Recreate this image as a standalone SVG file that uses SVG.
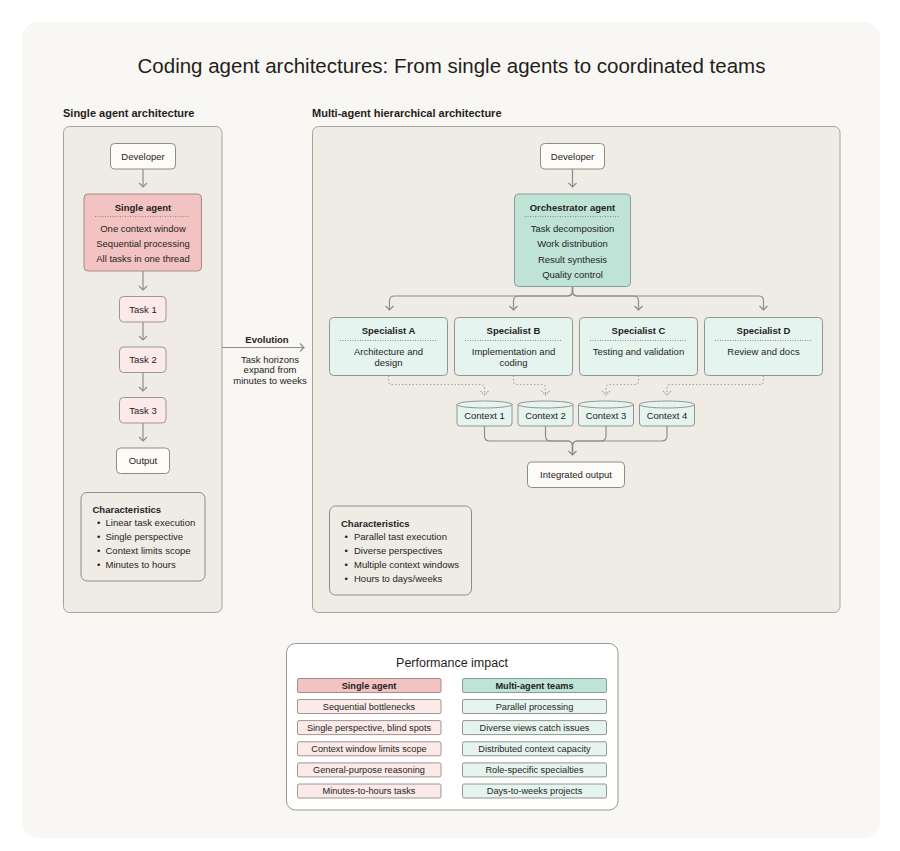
<svg xmlns="http://www.w3.org/2000/svg" width="900" height="851" viewBox="0 0 900 851">
<defs>
<style>
text{font-family:"Liberation Sans",Arial,sans-serif;fill:#1f1e1b}
.t{font-size:9.5px;text-anchor:middle}
.tb{font-size:9.5px;text-anchor:middle;font-weight:bold}
.l{font-size:9.5px}
.lb{font-size:9.5px;font-weight:bold}
.h{font-size:11px;font-weight:bold}
.panel{fill:#efece6;stroke:#a6a39b;stroke-width:1}
.white{fill:#fcfbf8;stroke:#8f8c85;stroke-width:1}
.pink{fill:#f2c3c2;stroke:#a58b88;stroke-width:1}
.lpink{fill:#fbeae8;stroke:#9d9691;stroke-width:1}
.mint{fill:#bfe4d7;stroke:#879f96;stroke-width:1}
.lmint{fill:#e6f4ef;stroke:#939690;stroke-width:1}
.dots{stroke:#8f8c85;stroke-width:1;stroke-dasharray:1 1.5;fill:none}
.c{fill:none;stroke:#8f8c85;stroke-width:1.2}
.cd{fill:none;stroke:#aaa69e;stroke-width:1.2;stroke-dasharray:1.5 2}
.pt{font-size:9.2px;text-anchor:middle}
</style>
<marker id="ah" viewBox="-6 -6 12 12" refX="0" refY="0" markerWidth="12" markerHeight="12" markerUnits="userSpaceOnUse" orient="auto">
<path d="M-4,-4 L0,0 L-4,4" fill="none" stroke="#8f8c85" stroke-width="1.2"/>
</marker>
<marker id="ahd" viewBox="-6 -6 12 12" refX="0" refY="0" markerWidth="12" markerHeight="12" markerUnits="userSpaceOnUse" orient="auto">
<path d="M-4,-4 L0,0 L-4,4" fill="none" stroke="#aaa69e" stroke-width="1.2" stroke-dasharray="1.5 1"/>
</marker>
</defs>
<rect width="900" height="851" fill="#ffffff"/>
<rect x="22" y="22" width="858" height="816" rx="16" fill="#f8f7f3"/>
<text x="451.5" y="73" style="font-size:20.5px;text-anchor:middle">Coding agent architectures: From single agents to coordinated teams</text>

<g id="left-panel">
<text x="63" y="117" class="h">Single agent architecture</text>
<rect x="63.5" y="126.5" width="158.5" height="486" rx="6" class="panel"/>
</g>
<g id="right-panel">
<text x="312" y="117" class="h">Multi-agent hierarchical architecture</text>
<rect x="312.5" y="126.5" width="527.5" height="486" rx="6" class="panel"/>
</g>

<g id="connectors">
<path class="c" d="M143,169 V187" marker-end="url(#ah)"/>
<path class="c" d="M143,271 V290" marker-end="url(#ah)"/>
<path class="c" d="M143,322 V340" marker-end="url(#ah)"/>
<path class="c" d="M143,373 V391" marker-end="url(#ah)"/>
<path class="c" d="M143,423 V441" marker-end="url(#ah)"/>
<path class="c" d="M222,347.5 H304" marker-end="url(#ah)"/>
<path class="c" d="M572.5,169 V187" marker-end="url(#ah)"/>
<path class="c" d="M572.5,287 V291 Q572.5,296 567.5,296 H394.5 Q389.5,296 389.5,301 V310" marker-end="url(#ah)"/>
<path class="c" d="M572.5,287 V291 Q572.5,296 567.5,296 H518.5 Q513.5,296 513.5,301 V310" marker-end="url(#ah)"/>
<path class="c" d="M572.5,287 V291 Q572.5,296 577.5,296 H633.5 Q638.5,296 638.5,301 V310" marker-end="url(#ah)"/>
<path class="c" d="M572.5,287 V291 Q572.5,296 577.5,296 H758.5 Q763.5,296 763.5,301 V310" marker-end="url(#ah)"/>
<path class="cd" d="M388.5,375.5 V381 Q388.5,384.5 392,384.5 H481 Q484.5,384.5 484.5,388 V395" marker-end="url(#ahd)"/>
<path class="cd" d="M513.5,375.5 V381 Q513.5,384.5 517,384.5 H542 Q545.5,384.5 545.5,388 V395" marker-end="url(#ahd)"/>
<path class="cd" d="M638.5,375.5 V381 Q638.5,384.5 635,384.5 H609.5 Q606,384.5 606,388 V395" marker-end="url(#ahd)"/>
<path class="cd" d="M763.5,375.5 V381 Q763.5,384.5 760,384.5 H670.5 Q667,384.5 667,388 V395" marker-end="url(#ahd)"/>
<path class="c" d="M484.5,426 V436 Q484.5,441 489.5,441 H567.5 Q572.5,441 572.5,446 V455" marker-end="url(#ah)"/>
<path class="c" d="M545.5,426 V436 Q545.5,441 550.5,441 H567.5 Q572.5,441 572.5,446 V455"/>
<path class="c" d="M606,426 V436 Q606,441 601,441 H577.5 Q572.5,441 572.5,446 V455"/>
<path class="c" d="M667,426 V436 Q667,441 662,441 H577.5 Q572.5,441 572.5,446 V455"/>
<path class="c" d="M441,706.5 H456" marker-end="url(#ah)"/>
<path class="c" d="M441,727.5 H456" marker-end="url(#ah)"/>
<path class="c" d="M441,748.8 H456" marker-end="url(#ah)"/>
<path class="c" d="M441,769.9 H456" marker-end="url(#ah)"/>
<path class="c" d="M441,791 H456" marker-end="url(#ah)"/>
</g>

<g id="l-developer">
<rect x="110.5" y="143.5" width="65" height="25.5" rx="4" class="white"/>
<text x="143" y="160" class="t">Developer</text>
</g>
<g id="single-agent">
<rect x="84" y="194" width="117.5" height="77" rx="4" class="pink"/>
<text x="143" y="210.5" class="tb">Single agent</text>
<line x1="95" y1="216.5" x2="190" y2="216.5" class="dots"/>
<text x="143" y="231.5" class="t">One context window</text>
<text x="143" y="247" class="t">Sequential processing</text>
<text x="143" y="262" class="t">All tasks in one thread</text>
</g>
<g id="task1">
<rect x="119.5" y="296.5" width="46.5" height="25.5" rx="4" class="lpink"/>
<text x="143" y="312.5" class="t">Task 1</text>
</g>
<g id="task2">
<rect x="119.5" y="347" width="46.5" height="25.5" rx="4" class="lpink"/>
<text x="143" y="363" class="t">Task 2</text>
</g>
<g id="task3">
<rect x="119.5" y="397.5" width="46.5" height="25.5" rx="4" class="lpink"/>
<text x="143" y="413.5" class="t">Task 3</text>
</g>
<g id="l-output">
<rect x="116.5" y="448" width="53" height="25.5" rx="4" class="white"/>
<text x="143" y="464" class="t">Output</text>
</g>
<g id="l-characteristics">
<rect x="81" y="492.5" width="124" height="88.5" rx="6" class="panel" style="stroke:#8f8c85"/>
<text x="92.5" y="512.5" class="lb">Characteristics</text>
<text x="97" y="526" class="l">•</text><text x="105.5" y="526" class="l">Linear task execution</text>
<text x="97" y="540" class="l">•</text><text x="105.5" y="540" class="l">Single perspective</text>
<text x="97" y="554" class="l">•</text><text x="105.5" y="554" class="l">Context limits scope</text>
<text x="97" y="568" class="l">•</text><text x="105.5" y="568" class="l">Minutes to hours</text>
</g>

<g id="evolution">
<text x="267" y="343" class="tb">Evolution</text>
<text x="270" y="362.5" class="t">Task horizons</text>
<text x="270" y="373" class="t">expand from</text>
<text x="270" y="383.5" class="t">minutes to weeks</text>
</g>

<g id="r-developer">
<rect x="540.5" y="143.5" width="64" height="25.5" rx="4" class="white"/>
<text x="572.5" y="160" class="t">Developer</text>
</g>
<g id="orchestrator">
<rect x="514.5" y="194" width="116" height="92.5" rx="4" class="mint"/>
<text x="572.5" y="210.8" class="tb">Orchestrator agent</text>
<line x1="525" y1="216.5" x2="620" y2="216.5" class="dots"/>
<text x="572.5" y="231.8" class="t">Task decomposition</text>
<text x="572.5" y="247.3" class="t">Work distribution</text>
<text x="572.5" y="262.5" class="t">Result synthesis</text>
<text x="572.5" y="277.8" class="t">Quality control</text>
</g>
<g id="specialist-a">
<rect x="329.5" y="317.5" width="118" height="58" rx="4" class="lmint"/>
<text x="388.5" y="334.3" class="tb">Specialist A</text>
<line x1="340" y1="340.5" x2="437" y2="340.5" class="dots"/>
<text x="388.5" y="355.3" class="t">Architecture and</text>
<text x="388.5" y="366" class="t">design</text>
</g>
<g id="specialist-b">
<rect x="454.5" y="317.5" width="118" height="58" rx="4" class="lmint"/>
<text x="513.5" y="334.3" class="tb">Specialist B</text>
<line x1="465" y1="340.5" x2="562" y2="340.5" class="dots"/>
<text x="513.5" y="355.3" class="t">Implementation and</text>
<text x="513.5" y="366" class="t">coding</text>
</g>
<g id="specialist-c">
<rect x="579.5" y="317.5" width="118" height="58" rx="4" class="lmint"/>
<text x="638.5" y="334.3" class="tb">Specialist C</text>
<line x1="590" y1="340.5" x2="687" y2="340.5" class="dots"/>
<text x="638.5" y="355.3" class="t">Testing and validation</text>
</g>
<g id="specialist-d">
<rect x="704.5" y="317.5" width="118" height="58" rx="4" class="lmint"/>
<text x="763.5" y="334.3" class="tb">Specialist D</text>
<line x1="715" y1="340.5" x2="812" y2="340.5" class="dots"/>
<text x="763.5" y="355.3" class="t">Review and docs</text>
</g>

<g id="context-1">
<path class="lmint" d="M457,404.5 A27.5,3.5 0 0 1 512,404.5 V423 Q512,426 509,426 H460 Q457,426 457,423 Z"/>
<path d="M457,404.5 A27.5,3.5 0 0 0 512,404.5" fill="none" stroke="#939690"/>
<text x="484.5" y="419" class="t">Context 1</text>
</g>
<g id="context-2">
<path class="lmint" d="M518,404.5 A27.5,3.5 0 0 1 573,404.5 V423 Q573,426 570,426 H521 Q518,426 518,423 Z"/>
<path d="M518,404.5 A27.5,3.5 0 0 0 573,404.5" fill="none" stroke="#939690"/>
<text x="545.5" y="419" class="t">Context 2</text>
</g>
<g id="context-3">
<path class="lmint" d="M578.5,404.5 A27.5,3.5 0 0 1 633.5,404.5 V423 Q633.5,426 630.5,426 H581.5 Q578.5,426 578.5,423 Z"/>
<path d="M578.5,404.5 A27.5,3.5 0 0 0 633.5,404.5" fill="none" stroke="#939690"/>
<text x="606" y="419" class="t">Context 3</text>
</g>
<g id="context-4">
<path class="lmint" d="M639.5,404.5 A27.5,3.5 0 0 1 694.5,404.5 V423 Q694.5,426 691.5,426 H642.5 Q639.5,426 639.5,423 Z"/>
<path d="M639.5,404.5 A27.5,3.5 0 0 0 694.5,404.5" fill="none" stroke="#939690"/>
<text x="667" y="419" class="t">Context 4</text>
</g>
<g id="integrated-output">
<rect x="527.5" y="462" width="97" height="25.5" rx="4" class="white"/>
<text x="576" y="478" class="t">Integrated output</text>
</g>
<g id="r-characteristics">
<rect x="329.5" y="506" width="142" height="89" rx="6" class="panel" style="stroke:#8f8c85"/>
<text x="341" y="526.5" class="lb">Characteristics</text>
<text x="344.5" y="540" class="l">•</text><text x="354" y="540" class="l">Parallel tast execution</text>
<text x="344.5" y="554" class="l">•</text><text x="354" y="554" class="l">Diverse perspectives</text>
<text x="344.5" y="568" class="l">•</text><text x="354" y="568" class="l">Multiple context windows</text>
<text x="344.5" y="582" class="l">•</text><text x="354" y="582" class="l">Hours to days/weeks</text>
</g>

<g id="performance-impact">
<rect x="286.5" y="643.5" width="331.5" height="166.5" rx="9" fill="#ffffff" stroke="#9a978f"/>
<text x="452" y="667" style="font-size:12.5px;text-anchor:middle">Performance impact</text>
<rect x="297.5" y="678.5" width="143.5" height="14" rx="1.5" class="pink"/>
<text x="369" y="689" class="pt" style="font-weight:bold">Single agent</text>
<rect x="462.5" y="678.5" width="144" height="14" rx="1.5" class="mint"/>
<text x="534.5" y="689" class="pt" style="font-weight:bold">Multi-agent teams</text>
<rect x="297.5" y="699.5" width="143.5" height="14" rx="1.5" class="lpink"/>
<text x="369" y="709.8" class="pt">Sequential bottlenecks</text>
<rect x="462.5" y="699.5" width="144" height="14" rx="1.5" class="lmint"/>
<text x="534.5" y="709.8" class="pt">Parallel processing</text>
<rect x="297.5" y="720.6" width="143.5" height="14" rx="1.5" class="lpink"/>
<text x="369" y="730.9" class="pt">Single perspective, blind spots</text>
<rect x="462.5" y="720.6" width="144" height="14" rx="1.5" class="lmint"/>
<text x="534.5" y="730.9" class="pt">Diverse views catch issues</text>
<rect x="297.5" y="741.8" width="143.5" height="14" rx="1.5" class="lpink"/>
<text x="369" y="752.1" class="pt">Context window limits scope</text>
<rect x="462.5" y="741.8" width="144" height="14" rx="1.5" class="lmint"/>
<text x="534.5" y="752.1" class="pt">Distributed context capacity</text>
<rect x="297.5" y="762.9" width="143.5" height="14" rx="1.5" class="lpink"/>
<text x="369" y="773.2" class="pt">General-purpose reasoning</text>
<rect x="462.5" y="762.9" width="144" height="14" rx="1.5" class="lmint"/>
<text x="534.5" y="773.2" class="pt">Role-specific specialties</text>
<rect x="297.5" y="784" width="143.5" height="14" rx="1.5" class="lpink"/>
<text x="369" y="794.3" class="pt">Minutes-to-hours tasks</text>
<rect x="462.5" y="784" width="144" height="14" rx="1.5" class="lmint"/>
<text x="534.5" y="794.3" class="pt">Days-to-weeks projects</text>
</g>
</svg>
